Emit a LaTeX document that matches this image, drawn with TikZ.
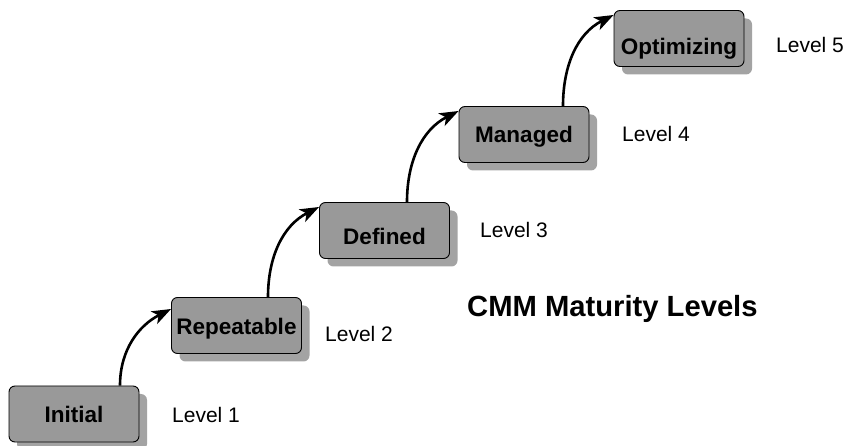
\documentclass[tikz,border=0pt]{standalone}
\usepackage{fontspec}
\setmainfont{Liberation Sans}
\usetikzlibrary{arrows.meta,shadows}
\definecolor{boxgray}{gray}{0.6}
\definecolor{shadowgray}{gray}{0.64}

\begin{document}
\begin{tikzpicture}[x=1pt,y=1pt,
  lvl/.style={draw,line width=0.9pt,fill=boxgray,rounded corners=6pt,
    minimum width=130pt,minimum height=56pt,inner sep=0pt,
    text height=#1,text depth=0pt,
    font=\fontsize{22.5}{26}\selectfont\bfseries,
    general shadow={fill=shadowgray,shadow xshift=8pt,shadow yshift=-8pt}},
  lvl/.default=16pt,
  tag/.style={anchor=base west,inner sep=0pt,font=\fontsize{21}{25}\selectfont},
  up/.style={line width=2.6pt,-{Stealth[length=19pt,width=14pt,inset=5pt]}}]
 \useasboundingbox (0,0) rectangle (847,445);
 % the five steps
 \node[lvl] (initial) at (74,31) {Initial};
 \node[lvl=19pt] (repeatable) at (236.5,119.5) {Repeatable};
 \node[lvl=29pt] (defined) at (384.5,214.5) {Defined};
 \node[lvl] (managed) at (524,310.5) {Managed};
 \node[lvl=33pt] (optimizing) at (679,406.5) {Optimizing};
 % level numbers
 \node[tag] (l1) at (172,23) {Level 1};
 \node[tag] (l2) at (325,103) {Level 2};
 \node[tag] (l3) at (480,207) {Level 3};
 \node[tag] (l4) at (622,303) {Level 4};
 \node[tag] (l5) at (776,392) {Level 5};
 \node[anchor=base west,inner sep=0pt,font=\fontsize{29.2}{35}\selectfont\bfseries]
   (title) at (467,128) {CMM Maturity Levels};
 % steps up
 \draw[up] ([xshift=46pt]initial.north) to[out=90,in=207] ([yshift=16.5pt]repeatable.west);
 \draw[up] ([xshift=31.5pt]repeatable.north) to[out=90,in=207] ([yshift=23.5pt]defined.west);
 \draw[up] ([xshift=22.5pt]defined.north) to[out=90,in=207] ([yshift=23.5pt]managed.west);
 \draw[up] ([xshift=39pt]managed.north) to[out=90,in=207] ([yshift=23.5pt]optimizing.west);
\end{tikzpicture}
\end{document}
